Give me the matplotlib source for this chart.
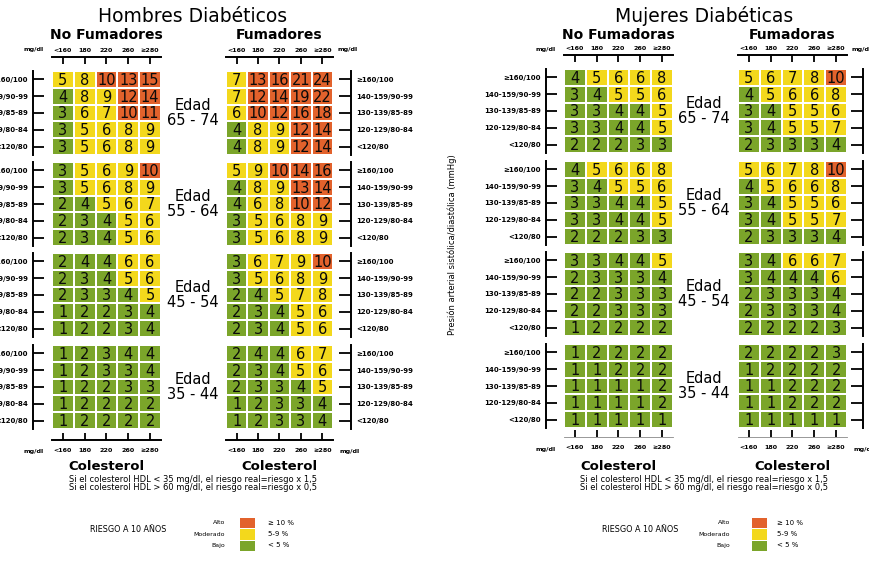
import numpy as np
import matplotlib
matplotlib.use("Agg")
import matplotlib.pyplot as plt
from matplotlib.colors import ListedColormap, BoundaryNorm

plt.rcParams['font.family'] = ['DejaVu Sans']

# ---------------- data ----------------
chol_labels = ["<160", "180", "220", "260", "≥280"]
bp_labels = ["≥160/100", "140-159/90-99", "130-139/85-89", "120-129/80-84", "<120/80"]
age_groups = ["65 - 74", "55 - 64", "45 - 54", "35 - 44"]

men_nonsmokers = [
    [[5, 8, 10, 13, 15], [4, 8, 9, 12, 14], [3, 6, 7, 10, 11], [3, 5, 6, 8, 9], [3, 5, 6, 8, 9]],
    [[3, 5, 6, 9, 10], [3, 5, 6, 8, 9], [2, 4, 5, 6, 7], [2, 3, 4, 5, 6], [2, 3, 4, 5, 6]],
    [[2, 4, 4, 6, 6], [2, 3, 4, 5, 6], [2, 3, 3, 4, 5], [1, 2, 2, 3, 4], [1, 2, 2, 3, 4]],
    [[1, 2, 3, 4, 4], [1, 2, 3, 3, 4], [1, 2, 2, 3, 3], [1, 2, 2, 2, 2], [1, 2, 2, 2, 2]],
]
men_smokers = [
    [[7, 13, 16, 21, 24], [7, 12, 14, 19, 22], [6, 10, 12, 16, 18], [4, 8, 9, 12, 14], [4, 8, 9, 12, 14]],
    [[5, 9, 10, 14, 16], [4, 8, 9, 13, 14], [4, 6, 8, 10, 12], [3, 5, 6, 8, 9], [3, 5, 6, 8, 9]],
    [[3, 6, 7, 9, 10], [3, 5, 6, 8, 9], [2, 4, 5, 7, 8], [2, 3, 4, 5, 6], [2, 3, 4, 5, 6]],
    [[2, 4, 4, 6, 7], [2, 3, 4, 5, 6], [2, 3, 3, 4, 5], [1, 2, 3, 3, 4], [1, 2, 3, 3, 4]],
]
women_nonsmokers = [
    [[4, 5, 6, 6, 8], [3, 4, 5, 5, 6], [3, 3, 4, 4, 5], [3, 3, 4, 4, 5], [2, 2, 2, 3, 3]],
    [[4, 5, 6, 6, 8], [3, 4, 5, 5, 6], [3, 3, 4, 4, 5], [3, 3, 4, 4, 5], [2, 2, 2, 3, 3]],
    [[3, 3, 4, 4, 5], [2, 3, 3, 3, 4], [2, 2, 3, 3, 3], [2, 2, 3, 3, 3], [1, 2, 2, 2, 2]],
    [[1, 2, 2, 2, 2], [1, 1, 2, 2, 2], [1, 1, 1, 1, 2], [1, 1, 1, 1, 2], [1, 1, 1, 1, 1]],
]
women_smokers = [
    [[5, 6, 7, 8, 10], [4, 5, 6, 6, 8], [3, 4, 5, 5, 6], [3, 4, 5, 5, 7], [2, 3, 3, 3, 4]],
    [[5, 6, 7, 8, 10], [4, 5, 6, 6, 8], [3, 4, 5, 5, 6], [3, 4, 5, 5, 7], [2, 3, 3, 3, 4]],
    [[3, 4, 6, 6, 7], [3, 4, 4, 4, 6], [2, 3, 3, 3, 4], [2, 3, 3, 3, 4], [2, 2, 2, 2, 3]],
    [[2, 2, 2, 2, 3], [1, 2, 2, 2, 2], [1, 1, 2, 2, 2], [1, 1, 2, 2, 2], [1, 1, 1, 1, 1]],
]
risk_names = ["Alto", "Moderado", "Bajo"]
risk_ranges = ["≥ 10 %", "5-9 %", "< 5 %"]
risk_levels = [10, 5, 0]

# ---------------- style ----------------
W, H = 870, 570
GREEN, YELLOW, ORANGE = "#7BA52A", "#F3D81C", "#E2622C"
cmap = ListedColormap([GREEN, YELLOW, ORANGE])
norm = BoundaryNorm([0, 5, 10, 100], 3)
PT = 0.72  # points per pixel

fig = plt.figure(figsize=(W / 100, H / 100), dpi=100)


def fr(x, y, w, h):
    return [x / W, 1 - (y + h) / H, w / W, h / H]


def ftext(x, y, s, **kw):
    kw.setdefault("ha", "center")
    kw.setdefault("va", "center")
    fig.text(x / W, 1 - y / H, s, **kw)


def block(x0, x1, y0, h, data, side, top, bottom, spec):
    ax = fig.add_axes(fr(x0, y0, x1 - x0, h))
    arr = np.array(data)
    ax.pcolormesh(arr, cmap=cmap, norm=norm, edgecolors="white", linewidth=1.3)
    ax.set_xlim(0, 5)
    ax.set_ylim(5, 0)
    for i in range(5):
        for j in range(5):
            ax.text(j + 0.5, i + 0.55, str(arr[i, j]), ha="center", va="center",
                    fontsize=10.5, color="#0a0a0a")
    for s in ax.spines.values():
        s.set_visible(False)
    ax.set_yticks(np.arange(5) + 0.5)
    ax.set_yticklabels(bp_labels)
    ax.set_xticks(np.arange(5) + 0.5)
    ax.set_xticklabels(chol_labels)
    # vertical axis
    sp = ax.spines[side]
    sp.set_visible(True)
    sp.set_position(("outward", spec["vout"] * PT))
    sp.set_linewidth(1.4)
    ax.tick_params(axis="y", left=(side == "left"), right=(side == "right"),
                   labelleft=(side == "left"), labelright=(side == "right"),
                   direction="in", length=spec["vlen"] * PT, width=1.3, pad=5 * PT,
                   labelsize=5)
    # horizontal axis
    ax.tick_params(axis="x", top=top, labeltop=top, bottom=bottom, labelbottom=bottom,
                   direction="in", length=7 * PT, width=1.3, labelsize=4.6)
    if top:
        t = ax.spines["top"]
        t.set_visible(True)
        t.set_position(("outward", 14 * PT))
        t.set_linewidth(1.4)
        ax.tick_params(axis="x", pad=4 * PT)
    if bottom:
        b = ax.spines["bottom"]
        b.set_visible(True)
        b.set_position(("outward", spec["hout"] * PT))
        b.set_linewidth(spec["blw"])
        b.set_color(spec["bcol"])
        ax.tick_params(axis="x", pad=8 * PT)
    for tk in ax.xaxis.get_major_ticks() + ax.yaxis.get_major_ticks():
        tk.label1.set_fontweight("bold")
        tk.label2.set_fontweight("bold")
    return ax


def panel(cx_ns, cx_s, tops, d_ns, d_s, title, tcx, ns_title, s_title, yoff,
          spec_ns, spec_s):
    bh = 84
    for k in range(4):
        block(cx_ns[0], cx_ns[1], tops[k], bh, d_ns[k], "left", k == 0, k == 3, spec_ns)
        block(cx_s[0], cx_s[1], tops[k], bh, d_s[k], "right", k == 0, k == 3, spec_s)
        ftext(tcx, tops[k] + bh / 2, "Edad\n" + age_groups[k], fontsize=10.5,
              linespacing=0.95)
    ftext(tcx, 16, title, fontsize=13.5)
    ftext((cx_ns[0] + cx_ns[1]) / 2, 35, ns_title, fontsize=10, fontweight="bold")
    ftext((cx_s[0] + cx_s[1]) / 2, 35, s_title, fontsize=10, fontweight="bold")
    # mg/dl unit labels
    ftext(cx_ns[0] - 8, 49, "mg/dl", fontsize=4.6, fontweight="bold", ha="right")
    ftext(cx_s[1] + 5, 49, "mg/dl", fontsize=4.6, fontweight="bold", ha="left")
    ftext(cx_ns[0] - 8, 452 - yoff, "mg/dl", fontsize=4.6, fontweight="bold", ha="right")
    ftext(cx_s[1] + 7, 452 - yoff, "mg/dl", fontsize=4.6, fontweight="bold", ha="left")
    ftext((cx_ns[0] + cx_ns[1]) / 2, 466, "Colesterol", fontsize=9.5, fontweight="bold")
    ftext((cx_s[0] + cx_s[1]) / 2, 466, "Colesterol", fontsize=9.5, fontweight="bold")
    ftext(tcx, 479, "Si el colesterol HDL < 35 mg/dl, el riesgo real=riesgo x 1,5", fontsize=6)
    ftext(tcx, 488, "Si el colesterol HDL > 60 mg/dl, el riesgo real=riesgo x 0,5", fontsize=6)


def legend(x_txt, x_lab, x_sq, x_rng):
    ftext(x_txt, 529, "RIESGO A 10 AÑOS", fontsize=5.8, ha="left")
    ax = fig.add_axes(fr(x_sq, 517, 16, 34))
    ax.pcolormesh(np.array(risk_levels).reshape(3, 1), cmap=cmap, norm=norm,
                  edgecolors="white", linewidth=0.5)
    ax.set_ylim(3, 0)
    ax.axis("off")
    for i in range(3):
        yy = 517 + 34 * (i + 0.5) / 3
        ftext(x_lab, yy, risk_names[i], fontsize=4.5, ha="right")
        ftext(x_rng, yy, risk_ranges[i], fontsize=5, ha="left")


men_spec_ns = dict(vout=19, vlen=11, hout=11, blw=1.4, bcol="black")
men_spec_s = dict(vout=18, vlen=12, hout=11, blw=1.4, bcol="black")
wom_spec_ns = dict(vout=18, vlen=11, hout=9, blw=0.6, bcol="#888888")
wom_spec_s = dict(vout=16, vlen=12, hout=9, blw=0.6, bcol="#888888")

panel((52, 161), (226, 333), [71, 162, 253, 345], men_nonsmokers, men_smokers,
      "Hombres Diabéticos", 193, "No Fumadores", "Fumadores", 0, men_spec_ns, men_spec_s)
panel((564, 673), (738, 847), [69, 161, 252, 344], women_nonsmokers, women_smokers,
      "Mujeres Diabéticas", 704, "No Fumadoras", "Fumadoras", 3, wom_spec_ns, wom_spec_s)

ftext(452, 245, "Presión arterial sistólica/diastólica (mmHg)", fontsize=6, rotation=90)

legend(90, 225, 239, 268)
legend(602, 730, 751, 777)

fig.savefig("out.png", dpi=100, facecolor="white")
